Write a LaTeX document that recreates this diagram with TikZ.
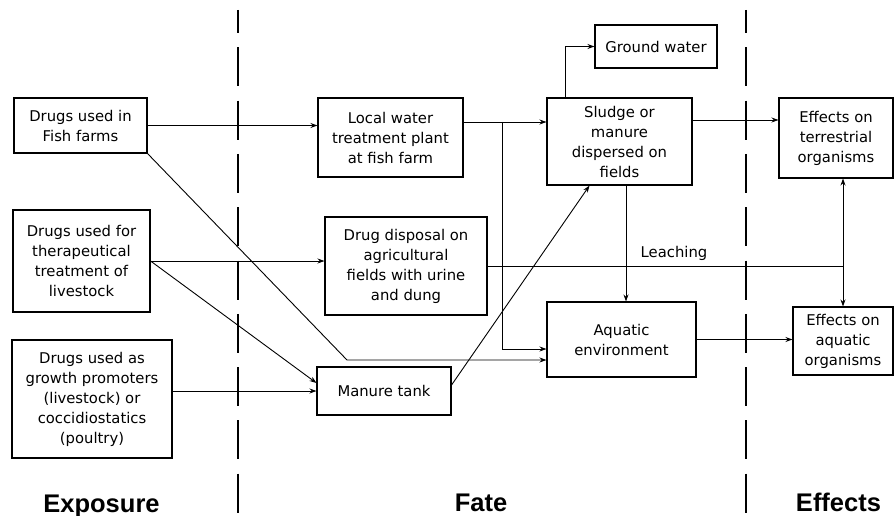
\documentclass[tikz,border=0pt]{standalone}
\usepackage{fontspec}
\setmainfont{DejaVu Sans}
\newfontfamily\phasefont{Liberation Sans}
\usetikzlibrary{arrows.meta}
\begin{document}
\begin{tikzpicture}[x=1pt,y=-1pt,
  box/.style={draw, line width=1.1pt, align=center, inner sep=0pt,
    font=\fontsize{14.8}{20}\selectfont},
  arr/.style={-{Stealth[length=7pt,width=5pt]}, line width=0.9pt},
  ln/.style={line width=0.9pt},
  sep/.style={line width=1.1pt, dash pattern=on 39pt off 14.3pt, dash phase=16pt},
  phase/.style={font=\phasefont\bfseries\fontsize{25.5}{30}\selectfont, anchor=base, inner sep=0pt}]
\useasboundingbox (0,0) rectangle (894,516);
% separators
\draw[sep] (238,10) -- (238,513);
\draw[sep] (746,10) -- (746,513);
% boxes
\node[box, minimum width=133pt, minimum height=55pt] (fish) at (80.5,125.5) {Drugs used in\\Fish farms};
\node[box, minimum width=137pt, minimum height=102pt] (ther) at (81.5,261) {Drugs used for\\therapeutical\\treatment of\\livestock};
\node[box, minimum width=160pt, minimum height=118pt] (grow) at (92,399) {Drugs used as\\growth promoters\\(livestock) or\\coccidiostatics\\(poultry)};
\node[box, minimum width=145pt, minimum height=79pt] (local) at (390.5,137.5) {Local water\\treatment plant\\at fish farm};
\node[box, minimum width=162pt, minimum height=98pt] (disp) at (406,266) {Drug disposal on\\agricultural\\fields with urine\\and dung};
\node[box, minimum width=134pt, minimum height=48pt] (tank) at (384,391) {Manure tank};
\node[box, minimum width=145pt, minimum height=87pt] (sludge) at (619.5,141.5) {Sludge or\\manure\\dispersed on\\fields};
\node[box, minimum width=122pt, minimum height=43pt] (ground) at (656,46.5) {Ground water};
\node[box, minimum width=149pt, minimum height=75pt] (aqua) at (621.5,339.5) {Aquatic\\environment};
\node[box, minimum width=114pt, minimum height=80pt] (terr) at (836,138) {Effects on\\terrestrial\\organisms};
\node[box, minimum width=100pt, minimum height=68pt] (aqeff) at (843,341) {Effects on\\aquatic\\organisms};
% coordinates
\coordinate (k1) at (347,360);
\coordinate (b1) at (502,122);
\coordinate (lj) at (843,266);
% connectors
\draw[arr] (fish.east) -- (fish.east -| local.west);
\draw[arr] (fish.south east) -- (k1) -- (k1 -| aqua.west);
\draw[arr] (ther.east) -- (ther.east -| disp.west);
\draw[arr] (ther.east) -- ([yshift=8pt]tank.west);
\draw[arr] (tank.west -| grow.east) -- (tank.west);
\draw[arr] (local.east |- b1) -- (b1 -| sludge.west);
\draw[arr] (b1) -- (502,349) -- (aqua.west |- 0,349);
\draw[arr] ([yshift=6pt]tank.east) -- ([xshift=-30pt]sludge.south);
\draw[arr] ([xshift=-54.5pt]sludge.north) |- (ground.west);
\draw[arr] ([yshift=21.5pt]sludge.east) -- ([yshift=21.5pt]sludge.east -| terr.west);
\draw[arr] ([xshift=6.5pt]sludge.south) -- ([xshift=6.5pt]sludge.south |- aqua.north);
\draw[ln] (disp.east) -- (lj);
\draw[arr] (lj) -- (lj |- terr.south);
\draw[arr] (lj) -- (aqeff.north);
\draw[arr] (aqua.east) -- (aqua.east -| aqeff.west);
\node[font=\fontsize{14.8}{20}\selectfont] (leach) at (674,253) {Leaching};
% phase labels
\node[phase] (expo) at (101.5,512) {Exposure};
\node[phase] (fate) at (481,511) {Fate};
\node[phase] (eff) at (838.5,511) {Effects};
\end{tikzpicture}
\end{document}
